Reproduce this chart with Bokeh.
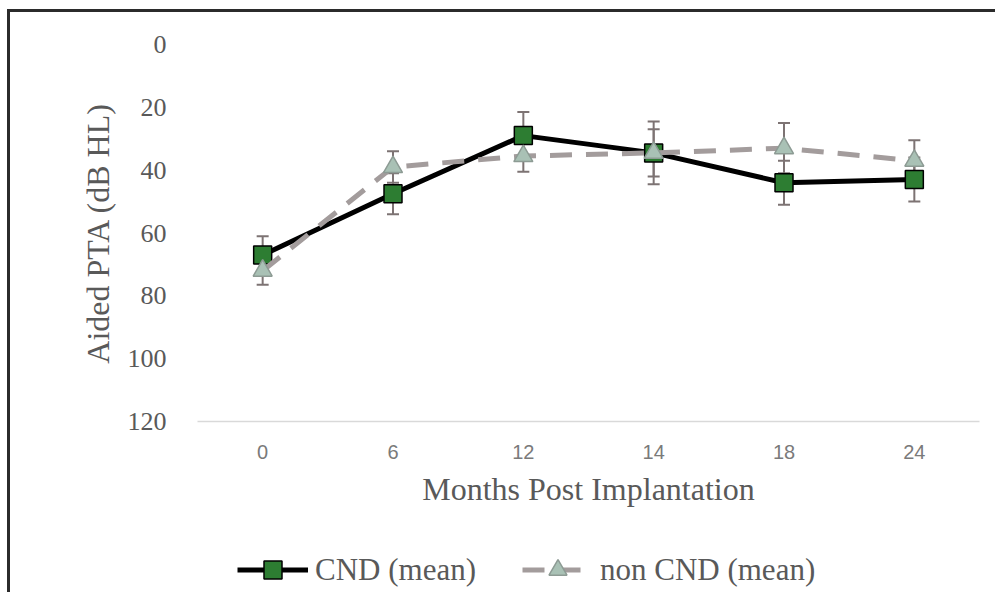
from bokeh.plotting import figure
from bokeh.layouts import column
from bokeh.models import ColumnDataSource, FactorRange, Range1d, Whisker, TeeHead, Legend, LegendItem
from bokeh.embed import file_html
from bokeh.resources import INLINE

months = ["0", "6", "12", "14", "18", "24"]
cnd_mean = [67, 47.5, 29, 34.5, 44, 43]
cnd_err = [6, 6.5, 7.5, 10, 7, 7]
non_mean = [72, 39, 35.5, 34.5, 33, 37]
non_err = [4.5, 5, 5, 7.5, 8, 6.5]
y_ticks = [0, 20, 40, 60, 80, 100, 120]

cnd_src = ColumnDataSource(dict(x=months, y=cnd_mean,
                                lo=[m - e for m, e in zip(cnd_mean, cnd_err)],
                                hi=[m + e for m, e in zip(cnd_mean, cnd_err)]))
non_src = ColumnDataSource(dict(x=months, y=non_mean,
                                lo=[m - e for m, e in zip(non_mean, non_err)],
                                hi=[m + e for m, e in zip(non_mean, non_err)]))

OX, OY = 10, 12          # content origin on the page (after margin + border)
W, H1, H2 = 985, 510, 70
FL, FR, FT, FB = 197, 979, 44, 421  # frame edges on the page

SERIF = "Liberation Serif"
TXT = "#595959"
CND_STYLE = dict(line=dict(line_color="black", line_width=5),
                 mark=dict(marker="square", size=18, fill_color="#2d7d32", line_color="black", line_width=1.5))
NON_STYLE = dict(line=dict(line_color="#a39c9c", line_width=5, line_dash="22 14"),
                 mark=dict(marker="triangle", size=19, fill_color="#a9c1b5", line_color="#8d9b94", line_width=1.5))

p = figure(width=W, height=H1, x_range=FactorRange(*months), y_range=Range1d(120, 0),
           output_backend="svg", toolbar_location=None,
           min_border_left=FL - OX, min_border_right=W - (FR - OX),
           min_border_top=FT - OY, min_border_bottom=H1 - (FB - OY))
p.outline_line_color = None
p.xgrid.grid_line_color = None
p.ygrid.grid_line_color = None

# y axis
p.yaxis.ticker = y_ticks
p.yaxis.axis_line_color = None
p.yaxis.major_tick_line_color = None
p.yaxis.minor_tick_line_color = None
p.yaxis.major_label_text_font = SERIF
p.yaxis.major_label_text_font_size = "26px"
p.yaxis.major_label_text_color = TXT
p.yaxis.major_label_standoff = 25
p.yaxis.axis_label = "Aided PTA (dB HL)"
p.yaxis.axis_label_text_font = SERIF
p.yaxis.axis_label_text_font_size = "32px"
p.yaxis.axis_label_text_font_style = "normal"
p.yaxis.axis_label_text_color = TXT
p.yaxis.axis_label_standoff = 9

# x axis
p.xaxis.axis_line_color = "#d9d9d9"
p.xaxis.axis_line_width = 1.5
p.xaxis.major_tick_line_color = None
p.xaxis.minor_tick_line_color = None
p.xaxis.major_label_text_font = "Liberation Sans"
p.xaxis.major_label_text_font_size = "20px"
p.xaxis.major_label_text_color = "#7a7a7a"
p.xaxis.major_label_standoff = 17
p.xaxis.axis_label = "Months Post Implantation"
p.xaxis.axis_label_text_font = SERIF
p.xaxis.axis_label_text_font_size = "32px"
p.xaxis.axis_label_text_font_style = "normal"
p.xaxis.axis_label_text_color = TXT
p.xaxis.axis_label_standoff = 9

# error bars
for src in (cnd_src, non_src):
    w = Whisker(source=src, base="x", lower="lo", upper="hi",
                line_color="#7d7373", line_width=2,
                upper_head=TeeHead(size=12, line_color="#7d7373", line_width=2),
                lower_head=TeeHead(size=12, line_color="#7d7373", line_width=2))
    p.add_layout(w)

p.line("x", "y", source=cnd_src, **CND_STYLE["line"])
p.scatter("x", "y", source=cnd_src, **CND_STYLE["mark"])
p.line("x", "y", source=non_src, **NON_STYLE["line"])
p.scatter("x", "y", source=non_src, **NON_STYLE["mark"])

# legend strip below the chart: hidden copies of the series serve as legend swatches
q = figure(width=W, height=H2, output_backend="svg", toolbar_location=None,
           x_range=FactorRange(*months), y_range=Range1d(120, 0),
           x_axis_type=None, y_axis_type=None,
           min_border_left=0, min_border_right=0, min_border_top=0, min_border_bottom=0)
q.outline_line_color = None
q.xgrid.grid_line_color = None
q.ygrid.grid_line_color = None
ql1 = q.line("x", "y", source=cnd_src, visible=False, **CND_STYLE["line"])
qs1 = q.scatter("x", "y", source=cnd_src, visible=False, **CND_STYLE["mark"])
ql2 = q.line("x", "y", source=non_src, visible=False, **NON_STYLE["line"])
qs2 = q.scatter("x", "y", source=non_src, visible=False, **NON_STYLE["mark"])

legend = Legend(items=[LegendItem(label="CND (mean)", renderers=[ql1, qs1]),
                       LegendItem(label="non CND (mean)", renderers=[ql2, qs2])],
                orientation="horizontal", location=(40, 0),
                glyph_width=71, glyph_height=45, label_standoff=7, spacing=46,
                padding=0, margin=0, inactive_fill_alpha=0,
                label_text_font=SERIF, label_text_font_size="31px", label_text_color=TXT,
                border_line_color=None, background_fill_alpha=0)
q.add_layout(legend, "center")

layout = column(p, q, spacing=0)
layout.styles = {"margin-left": "7px", "margin-top": "9px",
                 "border-top": "3px solid #2b2b2b", "border-left": "3px solid #2b2b2b"}

open("out.html", "w").write(file_html(layout, INLINE))
